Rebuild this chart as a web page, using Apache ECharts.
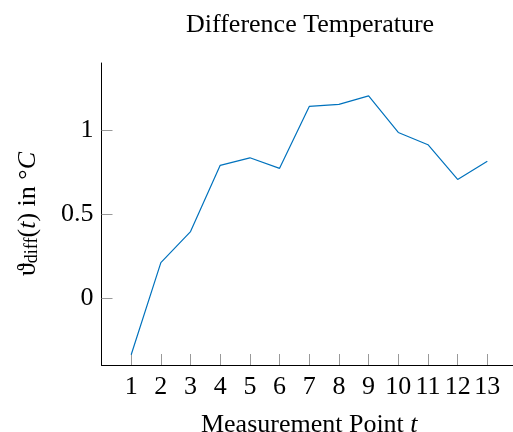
<!DOCTYPE html>
<html><head><meta charset="utf-8">
<script src="https://cdn.jsdelivr.net/npm/echarts@6/dist/echarts.min.js"></script>
<style>html,body{margin:0;padding:0;background:#fff}#c{width:513px;height:432px}</style>
</head><body><div id="c"></div>
<script>
const points = [1,2,3,4,5,6,7,8,9,10,11,12,13];
const values = [-0.339,0.210,0.395,0.790,0.835,0.772,1.141,1.153,1.204,0.986,0.913,0.706,0.815];
const yTicks = [0,0.5,1];
const xTicks = [1,2,3,4,5,6,7,8,9,10,11,12,13];
const F = 'Liberation Serif';
const chart = echarts.init(document.getElementById('c'), null, {renderer:'canvas'});
chart.setOption({
  animation:false,
  backgroundColor:'#fff',
  title:{text:'Difference Temperature',left:181,top:7,textStyle:{fontFamily:F,fontSize:26,fontWeight:'normal',color:'#000'}},
  grid:{left:101.5,top:63,bottom:67,right:-4,containLabel:false,outerBoundsMode:'none'},
  xAxis:{type:'value',min:0,max:14,
    name:'{a|Measurement Point }{i|t}',nameLocation:'middle',nameGap:47,
    nameTextStyle:{rich:{a:{fontFamily:F,fontSize:26,color:'#000'},i:{fontFamily:F,fontSize:26,fontStyle:'italic',color:'#000'}}},
    axisLine:{show:true,onZero:false,lineStyle:{color:'#000',width:1}},
    axisTick:{show:true,inside:true,length:11,customValues:xTicks,lineStyle:{color:'#999'}},
    axisLabel:{customValues:xTicks,fontFamily:F,fontSize:26,color:'#000',margin:9,hideOverlap:false},
    splitLine:{show:false}},
  yAxis:{type:'value',min:-0.4,max:1.4,
    name:'{a|ϑ}{s|diff}{a|(}{i|t}{a|) in °}{i|C}',nameLocation:'middle',nameGap:60,nameRotate:90,
    nameTextStyle:{rich:{a:{fontFamily:F,fontSize:26,color:'#000'},i:{fontFamily:F,fontSize:26,fontStyle:'italic',color:'#000'},s:{fontFamily:F,fontSize:18,color:'#000',padding:[9,0,0,0]}}},
    axisLine:{show:true,onZero:false,lineStyle:{color:'#000',width:1}},
    axisTick:{show:true,inside:true,length:11,customValues:yTicks,lineStyle:{color:'#999'}},
    axisLabel:{customValues:yTicks,fontFamily:F,fontSize:26,color:'#000',margin:8},
    splitLine:{show:false}},
  series:[{type:'line',data:points.map((p,i)=>[p,values[i]]),showSymbol:false,symbol:'none',
    lineStyle:{color:'#0072BD',width:1.2},itemStyle:{color:'#0072BD'}}]
});
</script></body></html>
